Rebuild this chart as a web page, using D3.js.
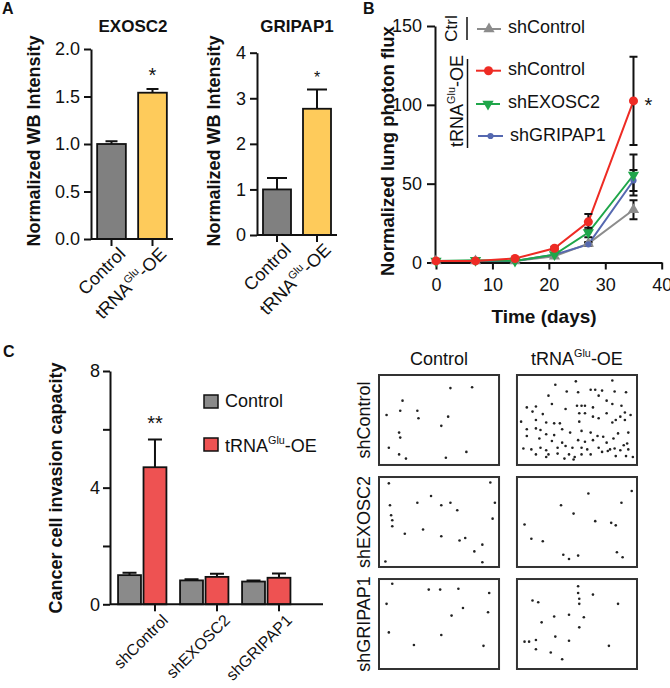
<!DOCTYPE html>
<html><head><meta charset="utf-8">
<script src="https://cdn.jsdelivr.net/npm/d3@7"></script>
<style>body{margin:0;background:#fff}svg{display:block}text{font-family:'Liberation Sans',Arial,Helvetica,sans-serif}</style>
</head><body><svg id="c" width="670" height="688"></svg>
<script>
// ---------------- DATA ----------------
const wbCategories = ["Control", "tRNA^Glu-OE"];
const exosc2Values = [1.00, 1.54];
const exosc2Err = [0.03, 0.04];
const exosc2Ticks = [0, 0.5, 1.0, 1.5, 2.0];
const gripap1Values = [1.00, 2.77];
const gripap1Err = [0.25, 0.42];
const gripap1Ticks = [0, 1, 2, 3, 4];

const days = [0, 7, 14, 21, 27, 35];
const fluxCtrlShControl = [1, 1, 1, 4, 12, 33.5];
const fluxCtrlShControlErr = [0, 0, 0, 0.5, 1, 6];
const fluxOeShControl = [1, 1, 2.5, 9, 25.8, 102.5];
const fluxOeShControlErr = [0, 0, 0.3, 1, 5, 28];
const fluxOeShEXOSC2 = [1, 1.5, 1, 5, 19, 55.5];
const fluxOeShEXOSC2Err = [0, 0.3, 0, 0.5, 3, 13];
const fluxOeShGRIPAP1 = [1, 1, 1, 5, 11.5, 52];
const fluxOeShGRIPAP1Err = [0, 0, 0, 0.5, 1, 6.6];
const fluxXTicks = [0, 10, 20, 30, 40];
const fluxYTicks = [0, 50, 100, 150];

const invasionGroups = ["shControl", "shEXOSC2", "shGRIPAP1"];
const invasionSeries = ["Control", "tRNA^Glu-OE"];
const invasionControl = [1.00, 0.82, 0.78];
const invasionControlErr = [0.08, 0.04, 0.04];
const invasionOE = [4.70, 0.94, 0.91];
const invasionOEErr = [0.95, 0.11, 0.15];
const invasionTicks = [0, 2, 4, 6, 8];
const invasionTickLabels = ["0", "", "4", "", "8"];

const imgRows = ["shControl", "shEXOSC2", "shGRIPAP1"];
const imgCols = ["Control", "tRNA^Glu-OE"];
// dot positions in % of image frame
const dotsShControlCtrl = [[60,12],[79,11],[18,27],[4,44],[16,39],[31,39],[32,48],[58,46],[52,57],[15,65],[16,71],[6,83],[15,91],[21,96],[56,95],[74,88]];
const dotsShControlOE = [[31,8],[49,4],[81,3],[41,16],[51,17],[62,14],[66,14],[72,15],[83,16],[93,17],[25,21],[69,21],[76,27],[81,31],[28,31],[14,34],[6,35],[40,37],[50,33],[54,33],[57,33],[64,35],[89,33],[11,40],[20,43],[52,42],[57,42],[76,42],[92,41],[1,52],[14,50],[23,53],[30,54],[35,54],[52,52],[64,46],[69,48],[88,46],[92,50],[81,53],[84,50],[37,61],[6,61],[14,60],[18,62],[44,65],[54,63],[62,65],[68,69],[73,70],[86,66],[95,65],[94,78],[23,67],[30,68],[6,69],[17,72],[28,75],[37,77],[51,74],[57,76],[64,74],[76,77],[82,72],[91,80],[3,84],[10,85],[18,83],[23,86],[33,83],[40,81],[46,83],[54,83],[59,85],[69,83],[79,85],[83,84],[88,86],[95,85],[14,91],[25,91],[33,90],[43,91],[48,94],[54,91],[62,91],[72,88],[77,87],[84,93],[93,93],[99,94],[39,96],[47,97],[23,94],[97,44]];
const dotsShEXOSC2Ctrl = [[6,4],[95,3],[43,19],[7,30],[31,27],[52,30],[60,27],[66,36],[8,42],[9,48],[9,55],[20,64],[36,59],[52,67],[68,72],[73,69],[88,77],[81,85],[88,98],[3,97],[97,46],[99,27]];
const dotsShEXOSC2OE = [[60,16],[98,13],[36,30],[47,40],[66,49],[80,51],[84,54],[89,27],[4,53],[10,70],[20,73],[38,89],[43,94],[51,90],[85,86],[90,92]];
const dotsShGRIPAP1Ctrl = [[9,2],[41,9],[51,9],[67,8],[94,13],[4,26],[71,31],[61,40],[93,36],[6,60],[52,63],[28,75],[89,76]];
const dotsShGRIPAP1OE = [[51,5],[51,13],[52,20],[52,26],[11,22],[16,24],[64,15],[86,26],[30,41],[43,39],[56,42],[19,48],[52,54],[31,65],[43,70],[4,71],[8,71],[14,69],[78,76],[14,80],[27,84],[37,92]];

// ---------------- HELPERS ----------------
const FONT = "'Liberation Sans', Arial, Helvetica, sans-serif";
const INK = "#111";
const svg = d3.select("#c");

function rich(textSel, str, size) {
  const parts = str.split(/\^(\w+)/);
  parts.forEach((p, i) => {
    if (!p) return;
    const t = textSel.append("tspan").text(p);
    if (i % 2 === 1) t.attr("font-size", size * 0.6).attr("dy", -size * 0.42);
    else if (i > 0) t.attr("dy", size * 0.42);
  });
  return textSel;
}
function styleAxis(ax, size) {
  ax.select(".domain").attr("stroke", INK).attr("stroke-width", 2);
  ax.selectAll(".tick line").attr("stroke", INK).attr("stroke-width", 2);
  ax.selectAll(".tick text").attr("font-size", size).attr("fill", INK).attr("font-family", FONT);
}
function label(x, y, txt, size, opts = {}) {
  const t = svg.append("text").attr("x", x).attr("y", y).attr("font-size", size)
    .attr("fill", INK).attr("font-family", FONT)
    .attr("font-weight", opts.bold ? "bold" : null)
    .attr("text-anchor", opts.anchor || "start");
  if (opts.rotate) t.attr("transform", `rotate(${opts.rotate},${x},${y})`);
  rich(t, txt, size);
  return t;
}

// ---------------- PANEL A ----------------
const wbColors = ["#808080", "#FECB5B"];
function wbPanel(o) {
  const g = svg.append("g");
  const x = d3.scaleBand().domain(wbCategories).range(o.xRange).paddingInner(0.3).paddingOuter(0.15);
  const y = d3.scaleLinear().domain([0, o.yMax]).range(o.yRange);
  const data = wbCategories.map((c, i) => ({ c, v: o.values[i], e: o.errs[i], fill: wbColors[i] }));
  g.selectAll("path.err").data(data).join("path").attr("class", "err")
    .attr("d", d => {
      const cx = x(d.c) + x.bandwidth() / 2;
      return `M${cx},${y(d.v)}V${y(d.v + d.e)}M${cx - o.cap},${y(d.v + d.e)}H${cx + o.cap}`;
    }).attr("stroke", INK).attr("stroke-width", 2).attr("fill", "none");
  g.selectAll("rect").data(data).join("rect")
    .attr("x", d => x(d.c)).attr("y", d => y(d.v))
    .attr("width", x.bandwidth()).attr("height", d => y(0) - y(d.v))
    .attr("fill", d => d.fill).attr("stroke", INK).attr("stroke-width", 1.8);
  const ax = g.append("g").attr("transform", `translate(${o.xRange[0]},0)`)
    .call(d3.axisLeft(y).tickValues(o.ticks).tickFormat(o.fmt).tickSize(7).tickSizeOuter(0).tickPadding(4));
  styleAxis(ax, 18);
  g.append("line").attr("x1", o.xRange[0]).attr("x2", o.xRange[1]).attr("y1", y(0)).attr("y2", y(0))
    .attr("stroke", INK).attr("stroke-width", 2);
  wbCategories.forEach(c => {
    const cx = x(c) + x.bandwidth() / 2;
    g.append("line").attr("x1", cx).attr("x2", cx).attr("y1", y(0)).attr("y2", y(0) + 7)
      .attr("stroke", INK).attr("stroke-width", 2);
    label(cx + 15, y(0) + 16, c, 18, { anchor: "end", rotate: -45 });
  });
  label(o.titleX, 32, o.title, 17, { bold: true, anchor: "middle" });
  label(o.ylabX, 141, "Normalized  WB Intensity", 18, { bold: true, anchor: "middle", rotate: -90 });
  const oe = data[1];
  label(x(oe.c) + x.bandwidth() / 2, y(oe.v + oe.e) - 7, "*", o.starSize, { anchor: "middle" });
}
wbPanel({ title: "EXOSC2", values: exosc2Values, errs: exosc2Err, ticks: exosc2Ticks, fmt: d3.format(".1f"),
  yMax: 2, xRange: [91, 173], yRange: [239, 49], titleX: 133, ylabX: 40, cap: 6, starSize: 20 });
wbPanel({ title: "GRIPAP1", values: gripap1Values, errs: gripap1Err, ticks: gripap1Ticks, fmt: d3.format("d"),
  yMax: 4, xRange: [257, 337], yRange: [235, 52.7], titleX: 297, ylabX: 220, cap: 10, starSize: 16 });
label(2, 14, "A", 16, { bold: true });

// ---------------- PANEL B ----------------
(function () {
  const g = svg.append("g");
  const x = d3.scaleLinear().domain([0, 40]).range([436, 661.7]);
  const y = d3.scaleLinear().domain([0, 150]).range([262.5, 26]);
  const ay = g.append("g").attr("transform", `translate(${x(0) - 1},0)`)
    .call(d3.axisLeft(y).tickValues(fluxYTicks).tickSize(8).tickSizeOuter(0).tickPadding(5));
  styleAxis(ay, 18);
  const axb = g.append("g").attr("transform", `translate(0,${y(0)})`)
    .call(d3.axisBottom(x).tickValues(fluxXTicks).tickSize(7).tickSizeOuter(0).tickPadding(9));
  styleAxis(axb, 18);
  label(544, 323, "Time (days)", 19, { bold: true, anchor: "middle" });
  label(394, 151, "Normalized lung photon flux", 18.5, { bold: true, anchor: "middle", rotate: -90 });

  const series = [
    { v: fluxCtrlShControl, e: fluxCtrlShControlErr, color: "#8C8C8C", sym: d3.symbolTriangle, size: 55, rot: 0 },
    { v: fluxOeShGRIPAP1, e: fluxOeShGRIPAP1Err, color: "#5568B0", sym: d3.symbolCircle, size: 30, rot: 0 },
    { v: fluxOeShEXOSC2, e: fluxOeShEXOSC2Err, color: "#1FA64A", sym: d3.symbolTriangle, size: 55, rot: 180 },
    { v: fluxOeShControl, e: fluxOeShControlErr, color: "#EE2B24", sym: d3.symbolCircle, size: 64, rot: 0 }
  ];
  const line = d3.line().x(d => x(d[0])).y(d => y(d[1]));
  series.forEach(s => {
    g.append("path").datum(days.map((d, i) => [d, s.v[i]])).attr("d", line)
      .attr("fill", "none").attr("stroke", s.color).attr("stroke-width", 2);
  });
  series.forEach(s => {
    days.forEach((d, i) => {
      if (s.e[i] < 0.8) return;
      const cx = x(d), lo = y(s.v[i] - s.e[i]), hi = y(s.v[i] + s.e[i]);
      g.append("path").attr("d", `M${cx},${lo}V${hi}M${cx - 4},${hi}H${cx + 4}M${cx - 4},${lo}H${cx + 4}`)
        .attr("stroke", INK).attr("stroke-width", 2).attr("fill", "none");
    });
  });
  series.forEach(s => {
    days.forEach((d, i) => {
      g.append("path").attr("d", d3.symbol(s.sym, s.size)())
        .attr("transform", `translate(${x(d)},${y(s.v[i])}) rotate(${s.rot})`).attr("fill", s.color);
    });
  });
  label(x(35) + 15, y(fluxOeShControl[5]) + 11, "*", 20, { anchor: "middle" });

  // legend
  label(457, 28.5, "Ctrl", 17, { anchor: "middle", rotate: -90 });
  g.append("line").attr("x1", 467).attr("x2", 467).attr("y1", 17).attr("y2", 40).attr("stroke", INK).attr("stroke-width", 1.5);
  label(463, 101, "tRNA^Glu-OE", 18, { anchor: "middle", rotate: -90 });
  g.append("line").attr("x1", 467.5).attr("x2", 467.5).attr("y1", 59).attr("y2", 148).attr("stroke", INK).attr("stroke-width", 1.5);
  const leg = [
    { s: series[0], y: 29, x0: 477, x1: 501, tx: 508, ty: 33, t: "shControl" },
    { s: series[3], y: 70.7, x0: 476, x1: 501, tx: 508, ty: 75, t: "shControl" },
    { s: series[2], y: 104, x0: 476, x1: 500, tx: 508, ty: 108, t: "shEXOSC2" },
    { s: series[1], y: 136, x0: 478, x1: 503, tx: 510, ty: 141, t: "shGRIPAP1" }
  ];
  leg.forEach(l => {
    g.append("line").attr("x1", l.x0).attr("x2", l.x1).attr("y1", l.y).attr("y2", l.y)
      .attr("stroke", l.s.color).attr("stroke-width", 2);
    g.append("path").attr("d", d3.symbol(l.s.sym, l.s.size)())
      .attr("transform", `translate(${(l.x0 + l.x1) / 2},${l.y}) rotate(${l.s.rot})`).attr("fill", l.s.color);
    label(l.tx, l.ty, l.t, 18);
  });
  label(363, 14, "B", 16, { bold: true });
})();

// ---------------- PANEL C (bars) ----------------
(function () {
  const g = svg.append("g");
  const colors = ["#8A8A8A", "#EE5252"];
  const xG = d3.scaleBand().domain(invasionGroups).range([110, 298.5]).paddingInner(0.22).paddingOuter(0.13);
  const xS = d3.scaleBand().domain(invasionSeries).range([0, xG.bandwidth()]).paddingInner(0.1);
  const y = d3.scaleLinear().domain([0, 8]).range([604.3, 371]);
  const data = [];
  invasionGroups.forEach((gr, i) => {
    data.push({ gr, s: invasionSeries[0], v: invasionControl[i], e: invasionControlErr[i], c: colors[0] });
    data.push({ gr, s: invasionSeries[1], v: invasionOE[i], e: invasionOEErr[i], c: colors[1] });
  });
  g.selectAll("path.err").data(data).join("path").attr("class", "err")
    .attr("d", d => {
      const cx = xG(d.gr) + xS(d.s) + xS.bandwidth() / 2;
      return `M${cx},${y(d.v)}V${y(d.v + d.e)}M${cx - 7},${y(d.v + d.e)}H${cx + 7}`;
    }).attr("stroke", INK).attr("stroke-width", 2).attr("fill", "none");
  g.selectAll("rect").data(data).join("rect")
    .attr("x", d => xG(d.gr) + xS(d.s)).attr("y", d => y(d.v))
    .attr("width", xS.bandwidth()).attr("height", d => y(0) - y(d.v))
    .attr("fill", d => d.c).attr("stroke", INK).attr("stroke-width", 1.8);
  const ay = g.append("g").attr("transform", `translate(110,0)`)
    .call(d3.axisLeft(y).tickValues(invasionTicks).tickFormat((d, i) => invasionTickLabels[i]).tickSize(7).tickSizeOuter(0).tickPadding(3));
  styleAxis(ay, 18);
  g.append("line").attr("x1", 110).attr("x2", 323).attr("y1", y(0)).attr("y2", y(0)).attr("stroke", INK).attr("stroke-width", 2);
  invasionGroups.forEach(gr => {
    const cx = xG(gr) + xS(invasionSeries[1]) + xS.bandwidth() / 2;
    g.append("line").attr("x1", cx).attr("x2", cx).attr("y1", y(0)).attr("y2", y(0) + 7).attr("stroke", INK).attr("stroke-width", 2);
    label(cx + 14, y(0) + 17, gr, 16, { anchor: "end", rotate: -45 });
  });
  const top = data[1];
  label(xG(top.gr) + xS(top.s) + xS.bandwidth() / 2, y(top.v + top.e) - 10, "**", 20, { anchor: "middle" });
  label(62, 488, "Cancer cell invasion capacity", 18, { bold: true, anchor: "middle", rotate: -90 });
  // legend
  [[395, 407], [438, 452]].forEach((p, i) => {
    g.append("rect").attr("x", 204).attr("y", p[0]).attr("width", 14).attr("height", 13)
      .attr("fill", colors[i]).attr("stroke", INK).attr("stroke-width", 1.5);
    label(225, p[1], invasionSeries[i], 18);
  });
  label(3, 357, "C", 16, { bold: true });
})();

// ---------------- PANEL C (images) ----------------
(function () {
  const g = svg.append("g");
  const dots = [[dotsShControlCtrl, dotsShControlOE], [dotsShEXOSC2Ctrl, dotsShEXOSC2OE], [dotsShGRIPAP1Ctrl, dotsShGRIPAP1OE]];
  const xc = d3.scaleBand().domain(imgCols).range([379, 637]).paddingInner(0.13);
  const yr = d3.scaleBand().domain(imgRows).range([375, 669]).paddingInner(0.118);
  imgCols.forEach(c => label(xc(c) + xc.bandwidth() / 2, 365, c, 18, { anchor: "middle" }));
  imgRows.forEach((r, ri) => {
    label(370, yr(r) + yr.bandwidth() / 2, r, 18, { anchor: "middle", rotate: -90 });
    imgCols.forEach((c, ci) => {
      const fx = d3.scaleLinear().domain([0, 100]).range([xc(c) + 3, xc(c) + xc.bandwidth() - 3]);
      const fy = d3.scaleLinear().domain([0, 100]).range([yr(r) + 3, yr(r) + yr.bandwidth() - 3]);
      g.selectAll(null).data(dots[ri][ci]).join("circle")
        .attr("cx", d => fx(d[0])).attr("cy", d => fy(d[1])).attr("r", 1.3).attr("fill", "#222");
      g.append("rect").attr("x", xc(c)).attr("y", yr(r)).attr("width", xc.bandwidth()).attr("height", yr.bandwidth())
        .attr("fill", "none").attr("stroke", "#333").attr("stroke-width", 2);
    });
  });
})();
</script></body></html>
